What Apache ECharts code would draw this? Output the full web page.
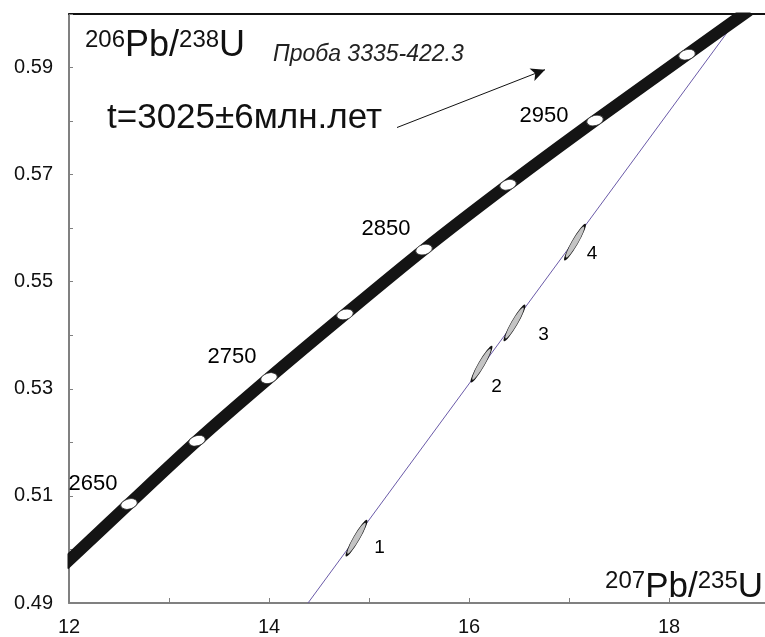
<!DOCTYPE html>
<html>
    <head>
        <meta charset="utf-8">
        <script src="https://cdn.jsdelivr.net/npm/echarts@6/dist/echarts.min.js"></script>
        <style>
            html, body { margin: 0; padding: 0; background: #fff; }
            #main { width: 765px; height: 637px; }
        </style>
    </head>
    <body>
        <div id="main"></div>
        <script>
        // concordia age marks (Ma) and their positions
        var ages = [2650, 2700, 2750, 2800, 2850, 2900, 2950, 3000];
        var ageX = [12.60, 13.28, 14.00, 14.76, 15.55, 16.39, 17.26, 18.18];
        var ageY = [0.5085, 0.5203, 0.5320, 0.5439, 0.5560, 0.5681, 0.5801, 0.5924];
        var labelledAges = [2650, 2750, 2850, 2950];

        // concordia curve ends (where it leaves the plot)
        var curveStart = [11.95, 0.4971];
        var curveEnd = [18.80, 0.6007];

        // discordia line
        var discordiaX = [14.39, 18.67];
        var discordiaY = [0.49, 0.5988];

        // analysed zircon spots
        var spotNames = ['1', '2', '3', '4'];
        var spotX = [14.875, 16.125, 16.455, 17.06];
        var spotY = [0.5021, 0.5346, 0.5423, 0.5574];

        // arrow from the age text
        var arrowFrom = [15.28, 0.5788];
        var arrowTo = [16.76, 0.5896];

        var FONT = '"Liberation Sans", Arial, sans-serif';

        var chart = echarts.init(document.getElementById('main'));

        var curveData = [curveStart];
        for (var i = 0; i < ages.length; i++) {
            curveData.push([ageX[i], ageY[i]]);
        }
        curveData.push(curveEnd);

        var ageOffsets = {
            2650: [-36, -20],
            2750: [-37, -21],
            2850: [-38, -21],
            2950: [-51, -5]
        };
        var ageData = ages.map(function (a, i) {
            var shown = labelledAges.indexOf(a) >= 0;
            return {
                value: [ageX[i], ageY[i]],
                label: shown ? {
                    show: true,
                    formatter: String(a),
                    position: 'inside',
                    color: '#000',
                    offset: ageOffsets[a]
                } : { show: false }
            };
        });

        var spotOffsets = [[23, 10], [15, 23], [29, 12], [17, 12]];
        var spotData = spotNames.map(function (n, i) {
            return {
                value: [spotX[i], spotY[i]],
                label: {
                    show: true,
                    formatter: n,
                    position: 'inside',
                    color: '#000',
                    offset: spotOffsets[i]
                }
            };
        });

        // white patches hiding the thick curve where it pokes out of the frame
        function mask(x, y, w, h) {
            return {
                type: 'rect',
                z: 100,
                silent: true,
                shape: { x: x, y: y, width: w, height: h },
                style: { fill: '#fff' }
            };
        }

        chart.setOption({
            animation: false,
            backgroundColor: '#fff',
            grid: { left: 69, top: 14, right: 0, bottom: 34 },
            xAxis: [{
                type: 'value',
                min: 12,
                max: 18.96,
                interval: 1,
                axisLine: { lineStyle: { color: '#808080', width: 2 } },
                axisTick: { inside: true, length: 5, lineStyle: { color: '#808080' } },
                axisLabel: {
                    margin: 14,
                    fontSize: 20,
                    fontFamily: FONT,
                    color: '#111',
                    showMaxLabel: false,
                    formatter: function (v) { return Math.round(v) % 2 === 0 ? String(v) : ''; }
                },
                splitLine: { show: false }
            }, {
                type: 'value',
                position: 'top',
                min: 12,
                max: 18.96,
                axisLine: { lineStyle: { color: '#111', width: 2 } },
                axisTick: { show: false },
                axisLabel: { show: false },
                splitLine: { show: false }
            }],
            yAxis: {
                type: 'value',
                min: 0.49,
                max: 0.60,
                interval: 0.01,
                axisLine: { lineStyle: { color: '#808080', width: 2 } },
                axisTick: { inside: true, length: 4, lineStyle: { color: '#808080' } },
                axisLabel: {
                    margin: 16,
                    fontSize: 20,
                    fontFamily: FONT,
                    color: '#111',
                    formatter: function (v) {
                        var k = Math.round(v * 100);
                        return (k % 2 === 1 && k < 60) ? v.toFixed(2) : '';
                    }
                },
                splitLine: { show: false }
            },
            series: [
                {
                    name: 'concordia',
                    type: 'line',
                    data: curveData,
                    smooth: 0.3,
                    symbol: 'none',
                    lineStyle: { color: '#141414', width: 12 },
                    z: 2
                },
                {
                    name: 'discordia',
                    type: 'line',
                    data: [[discordiaX[0], discordiaY[0]], [discordiaX[1], discordiaY[1]]],
                    symbol: 'none',
                    lineStyle: { color: '#6a5aa8', width: 1 },
                    z: 1
                },
                {
                    name: 'ages',
                    type: 'scatter',
                    data: ageData,
                    symbol: 'circle',
                    symbolSize: [17, 10],
                    symbolRotate: 15,
                    itemStyle: { color: '#fff', borderColor: '#333', borderWidth: 0.8, opacity: 1 },
                    label: { fontSize: 22, fontFamily: FONT, color: '#000' },
                    z: 3
                },
                {
                    name: 'spots',
                    type: 'scatter',
                    data: spotData,
                    symbol: 'circle',
                    symbolSize: [39, 6],
                    symbolRotate: 60,
                    itemStyle: { color: '#c4c4c4', borderColor: '#111', borderWidth: 1.3, opacity: 1 },
                    label: { fontSize: 19, fontFamily: FONT, color: '#000' },
                    z: 3
                },
                {
                    name: 'arrow',
                    type: 'line',
                    data: [],
                    markLine: {
                        silent: true,
                        symbol: ['none', 'arrow'],
                        symbolSize: [10, 14],
                        label: { show: false },
                        lineStyle: { color: '#111', width: 1, type: 'solid' },
                        data: [[{ coord: arrowFrom }, { coord: arrowTo }]]
                    }
                }
            ],
            graphic: [
                mask(0, 528, 67.5, 60),
                mask(680, 0, 85, 12.5),
                {
                    type: 'text',
                    left: 85,
                    top: 28,
                    style: {
                        text: '{s|206}{b|Pb/}{s|238}{b|U}',
                        rich: {
                            s: { fontSize: 24, fontFamily: FONT, fill: '#111', verticalAlign: 'top', lineHeight: 36 },
                            b: { fontSize: 36, fontFamily: FONT, fill: '#111', lineHeight: 36 }
                        }
                    }
                },
                {
                    type: 'text',
                    left: 273,
                    top: 43,
                    style: {
                        text: 'Проба 3335-422.3',
                        font: 'italic 23px ' + FONT,
                        fill: '#222'
                    }
                },
                {
                    type: 'text',
                    left: 107,
                    top: 101,
                    style: {
                        text: 't=3025±6млн.лет',
                        font: '35px ' + FONT,
                        fill: '#111'
                    }
                },
                {
                    type: 'text',
                    right: 2,
                    top: 569,
                    style: {
                        text: '{s|207}{b|Pb/}{s|235}{b|U}',
                        rich: {
                            s: { fontSize: 24, fontFamily: FONT, fill: '#111', verticalAlign: 'top', lineHeight: 36 },
                            b: { fontSize: 35, fontFamily: FONT, fill: '#111', lineHeight: 36 }
                        }
                    }
                }
            ]
        });
        </script>
    </body>
</html>
